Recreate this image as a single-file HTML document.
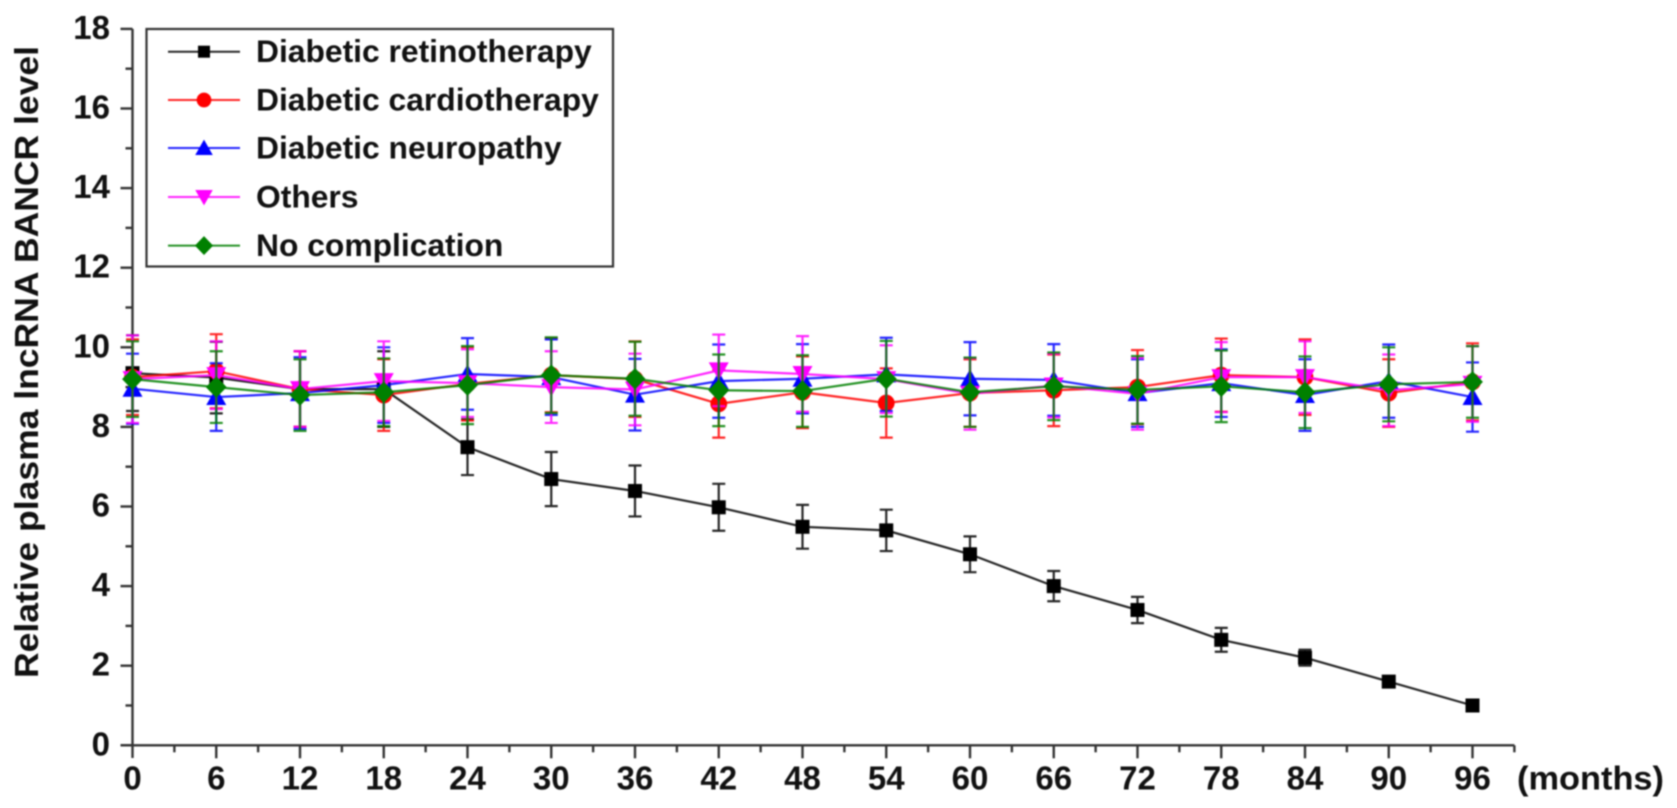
<!DOCTYPE html>
<html lang="en">
<head>
<meta charset="utf-8">
<title>Relative plasma lncRNA BANCR level</title>
<style>
html,body{margin:0;padding:0;background:#fff;width:1677px;height:808px;overflow:hidden}
svg{display:block;filter:blur(0.8px)}
text{font-family:"Liberation Sans",Arial,sans-serif;font-weight:bold;fill:#111}
</style>
</head>
<body>
<svg id="chart" width="1677" height="808" viewBox="0 0 1677 808" xmlns="http://www.w3.org/2000/svg"></svg>
<script>
const months = [0,6,12,18,24,30,36,42,48,54,60,66,72,78,84,90,96];
const yTickLabels = [0,2,4,6,8,10,12,14,16,18];
const seriesNames = ['Diabetic retinotherapy','Diabetic cardiotherapy','Diabetic neuropathy','Others','No complication'];
const retinoValues = [9.35,9.24,8.95,8.95,7.49,6.69,6.39,5.98,5.49,5.4,4.8,4.0,3.4,2.65,2.2,1.6,1.0];
const retinoErrors = [0.95,0.9,0.95,0.95,0.7,0.68,0.64,0.59,0.55,0.52,0.45,0.38,0.33,0.3,0.2,0.12,0.1];
const cardioValues = [9.25,9.4,8.95,8.8,9.08,9.3,9.2,8.58,8.87,8.6,8.85,8.92,9.0,9.3,9.25,8.85,9.13];
const cardioErrors = [0.95,0.93,0.95,0.9,0.92,0.93,0.95,0.85,0.9,0.87,0.85,0.9,0.93,0.92,0.95,0.85,0.97];
const neuroValues = [8.96,8.75,8.85,9.05,9.33,9.25,8.81,9.15,9.21,9.32,9.21,9.18,8.85,9.1,8.8,9.15,8.75];
const neuroErrors = [0.88,0.85,0.9,0.95,0.9,0.95,0.9,0.92,0.87,0.92,0.92,0.9,0.85,0.85,0.9,0.92,0.87];
const otherValues = [9.2,9.3,8.95,9.15,9.1,9.0,8.94,9.42,9.33,9.2,8.83,9.04,8.83,9.25,9.25,8.92,9.08];
const otherErrors = [1.1,0.85,0.95,1,0.85,0.9,0.9,0.9,0.95,0.85,0.9,0.8,0.9,0.88,0.9,0.9,0.95];
const noneValues = [9.2,9.0,8.8,8.87,9.05,9.3,9.21,8.92,8.9,9.21,8.87,9.02,8.93,9.02,8.87,9.07,9.13];
const noneErrors = [0.95,0.9,0.9,0.85,0.98,0.95,0.93,0.9,0.9,0.95,0.87,0.85,0.85,0.9,0.9,0.93,0.9];
const seriesValues = [retinoValues,cardioValues,neuroValues,otherValues,noneValues];
const seriesErrors = [retinoErrors,cardioErrors,neuroErrors,otherErrors,noneErrors];
const seriesColors = ['#000000','#ff0000','#0000ff','#ff00ff','#008000'];
const seriesKeys = ['retinotherapy','cardiotherapy','neuropathy','others','no-complication'];

const NS = 'http://www.w3.org/2000/svg';
const svg = document.getElementById('chart');
const x = m => 132.5 + (m / 6) * 83.75;
const y = v => 745.3 - v * 39.8;

function make(tag, attrs, parent) {
  const el = document.createElementNS(NS, tag);
  for (const k in attrs) el.setAttribute(k, attrs[k]);
  (parent || svg).appendChild(el);
  return el;
}
function marker(kind, cx, cy, color, s, parent) {
  if (kind === 0) return make('rect', {x: cx - s, y: cy - s, width: 2 * s, height: 2 * s, fill: color}, parent);
  if (kind === 1) return make('circle', {cx: cx, cy: cy, r: s * 1.05, fill: color}, parent);
  if (kind === 2) return make('polygon', {points: `${cx},${cy - s * 1.2} ${cx + s * 1.25},${cy + s} ${cx - s * 1.25},${cy + s}`, fill: color}, parent);
  if (kind === 3) return make('polygon', {points: `${cx},${cy + s * 1.2} ${cx + s * 1.25},${cy - s} ${cx - s * 1.25},${cy - s}`, fill: color}, parent);
  return make('polygon', {points: `${cx},${cy - s * 1.35} ${cx + s * 1.3},${cy} ${cx},${cy + s * 1.35} ${cx - s * 1.3},${cy}`, fill: color}, parent);
}

/* axes */
const axes = make('g', {stroke: '#333', 'stroke-width': 2.4, fill: 'none'});


const yAxis = make('line', {x1: x(0), x2: x(0), y1: y(18), y2: 758}, axes);


const xAxis = make('line', {x1: 120.5, x2: x(99), y1: y(0), y2: y(0)}, axes);


for (let v = 0; v <= 18; v++) {
  const major = v % 2 === 0;
  make('line', {x1: x(0) - (major ? 12 : 7), x2: x(0), y1: y(v), y2: y(v)}, axes);
}
for (let m = 3; m <= 99; m += 3) {
  make('line', {x1: x(m), x2: x(m), y1: y(0), y2: y(0) + (m % 6 === 0 ? 13 : 7)}, axes);
}
yTickLabels.forEach(v => {
  const t = make('text', {x: 110, y: y(v) + 10, 'text-anchor': 'end', 'font-size': 33});
  t.textContent = v;
  
  
});
months.forEach(m => {
  const t = make('text', {x: x(m), y: 789.5, 'text-anchor': 'middle', 'font-size': 33});
  t.textContent = m;
  
  
});
const xUnit = make('text', {x: 1517, y: 789.5, 'font-size': 33, textLength: 147, lengthAdjust: 'spacingAndGlyphs'});
xUnit.textContent = '(months)';


const yTitle = make('text', {transform: 'translate(38,362) rotate(-90)', 'text-anchor': 'middle', 'font-size': 33, textLength: 632, lengthAdjust: 'spacingAndGlyphs'});
yTitle.textContent = 'Relative plasma lncRNA BANCR level';



/* series */
seriesValues.forEach((vals, i) => {
  const color = seriesColors[i];
  const g = make('g', {});
  
  
  const errs = seriesErrors[i];
  vals.forEach((v, j) => {
    const cx = x(months[j]);
    const e = errs[j];
    const bars = make('path', {d: `M${cx} ${y(v + e)}V${y(v - e)}M${cx - 6.5} ${y(v + e)}h13M${cx - 6.5} ${y(v - e)}h13`, stroke: color, 'stroke-width': 2.2, fill: 'none', opacity: 0.85}, g);
    
    
  });
  const line = make('polyline', {points: vals.map((v, j) => x(months[j]) + ',' + y(v)).join(' '), fill: 'none', stroke: color, 'stroke-width': 2.2, opacity: 0.85}, g);
  
  
  vals.forEach((v, j) => {
    const m = marker(i, x(months[j]), y(v), color, i === 0 ? 7 : 8, g);
    
    
  });
});

/* legend */
const legend = make('g', {});


make('rect', {x: 146.5, y: 29, width: 466.5, height: 237.5, fill: '#fff', stroke: '#333', 'stroke-width': 2.2}, legend);
const legendRows = [51.7, 100, 148, 197, 245.6];
seriesNames.forEach((name, i) => {
  const row = make('g', {}, legend);
  
  
  const ly = legendRows[i];
  make('line', {x1: 168, x2: 240, y1: ly, y2: ly, stroke: seriesColors[i], 'stroke-width': 2, opacity: 0.85}, row);
  marker(i, 204, ly, seriesColors[i], i === 0 ? 6 : 7, row);
  const t = make('text', {x: 256, y: ly + 10.5, 'font-size': 31.8}, row);
  t.textContent = name;
});
</script>
</body>
</html>
